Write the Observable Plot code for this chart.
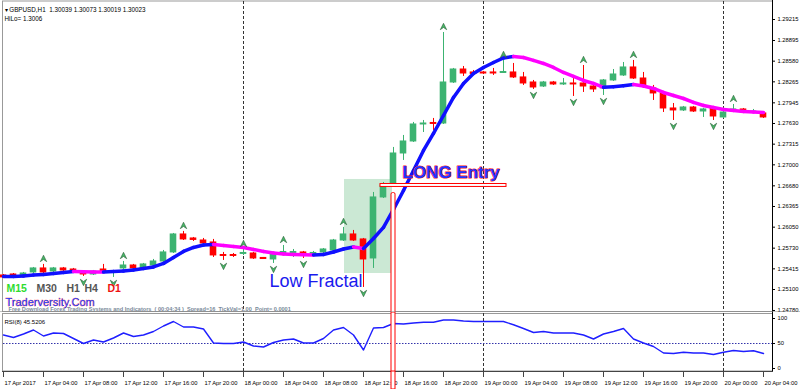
<!DOCTYPE html>
<html><head><meta charset="utf-8">
<script src="https://cdn.jsdelivr.net/npm/d3@7"></script>
<script src="https://cdn.jsdelivr.net/npm/@observablehq/plot@0.6"></script>
<style>
html,body{margin:0;padding:0;background:#fff;}
#chart{position:relative;width:800px;height:389px;overflow:hidden;background:#fff;}
#chart svg{display:block;}
</style></head><body><div id="chart"></div>
<script>
// ---- data (GBPUSD H1, bars 0..76 = 17 Apr 00:00 .. 20 Apr 04:00) ----
const open = [1.25314,1.25329,1.25299,1.25360,1.25421,1.25375,1.25421,1.25405,1.25360,1.25329,
1.25405,1.25360,1.25421,1.25466,1.25421,1.25466,1.25527,1.25665,1.25939,1.25878,
1.25847,1.25817,1.25626,1.25626,1.25642,1.25649,1.25581,1.25558,1.25657,1.25657,
1.25665,1.25642,1.25665,1.25695,1.25847,1.25939,1.25863,1.25573,1.26503,1.26716,
1.27173,1.27356,1.27615,1.27638,1.27630,1.28255,1.28453,1.28408,1.28408,1.28408,
1.28400,1.28408,1.28332,1.28255,1.28194,1.28255,1.28225,1.28240,1.28240,1.28194,
1.28164,1.28286,1.28362,1.28484,1.28316,1.28164,1.28088,1.27859,1.27829,1.27874,
1.27813,1.27859,1.27722,1.27813,1.27844,1.27798,1.27783];
const high = [1.25329,1.25344,1.25360,1.25436,1.25482,1.25436,1.25436,1.25421,1.25375,1.25390,
1.25482,1.25390,1.25527,1.25482,1.25497,1.25558,1.25695,1.25954,1.25985,1.25893,
1.25878,1.25863,1.25665,1.25649,1.25710,1.25665,1.25588,1.25649,1.25771,1.25710,
1.25680,1.25680,1.25725,1.25863,1.26046,1.26000,1.25878,1.26579,1.26731,1.27265,
1.27448,1.27646,1.27676,1.27707,1.29017,1.28469,1.28499,1.28438,1.28423,1.28469,
1.28591,1.28545,1.28408,1.28286,1.28271,1.28271,1.28316,1.28316,1.28514,1.28240,
1.28301,1.28453,1.28560,1.28591,1.28408,1.28210,1.28118,1.27935,1.27890,1.27890,
1.27859,1.27874,1.27813,1.27920,1.27859,1.27844,1.27798];
const low = [1.25268,1.25284,1.25284,1.25344,1.25344,1.25360,1.25375,1.25344,1.25299,1.25314,
1.25344,1.25284,1.25405,1.25405,1.25405,1.25451,1.25512,1.25649,1.25847,1.25832,
1.25786,1.25588,1.25543,1.25588,1.25619,1.25558,1.25558,1.25497,1.25649,1.25588,
1.25573,1.25619,1.25649,1.25680,1.25832,1.25832,1.25131,1.25421,1.26487,1.26670,
1.27067,1.27341,1.27493,1.27524,1.27615,1.28240,1.28347,1.28362,1.28377,1.28362,
1.28392,1.28316,1.28210,1.28149,1.28179,1.28210,1.28210,1.28042,1.28103,1.28103,
1.28057,1.28271,1.28347,1.28301,1.28164,1.27981,1.27798,1.27676,1.27813,1.27798,
1.27722,1.27676,1.27707,1.27798,1.27783,1.27783,1.27707];
const close = [1.25284,1.25299,1.25344,1.25421,1.25360,1.25421,1.25390,1.25360,1.25329,1.25375,
1.25360,1.25375,1.25466,1.25421,1.25482,1.25527,1.25665,1.25939,1.25863,1.25855,
1.25802,1.25619,1.25611,1.25611,1.25657,1.25573,1.25565,1.25634,1.25672,1.25672,
1.25642,1.25657,1.25710,1.25847,1.25939,1.25847,1.25558,1.26503,1.26686,1.27173,
1.27356,1.27615,1.27630,1.27623,1.28255,1.28453,1.28392,1.28385,1.28392,1.28392,
1.28415,1.28332,1.28240,1.28179,1.28255,1.28225,1.28240,1.28225,1.28194,1.28149,
1.28286,1.28377,1.28484,1.28316,1.28210,1.28088,1.27859,1.27829,1.27874,1.27813,
1.27844,1.27737,1.27798,1.27844,1.27798,1.27813,1.27722];
const trendMA = [1.25299,1.25299,1.25306,1.25322,1.25329,1.25344,1.25360,1.25375,1.25370,1.25367,
1.25365,1.25375,1.25382,1.25398,1.25421,1.25444,1.25497,1.25588,1.25680,1.25741,
1.25779,1.25786,1.25771,1.25756,1.25741,1.25710,1.25680,1.25657,1.25642,1.25634,
1.25629,1.25626,1.25634,1.25672,1.25718,1.25748,1.25725,1.25878,1.26046,1.26320,
1.26609,1.26914,1.27219,1.27478,1.27752,1.28027,1.28240,1.28392,1.28484,1.28560,
1.28629,1.28652,1.28636,1.28591,1.28545,1.28484,1.28408,1.28347,1.28286,1.28240,
1.28182,1.28191,1.28207,1.28225,1.28202,1.28164,1.28103,1.28057,1.28011,1.27951,
1.27905,1.27874,1.27844,1.27829,1.27813,1.27806,1.27798];
const rsi = [67,62,69,77,65,71,70,60,50,57,
53,61,71,64,67,74,85,94,83,83,
79,51,50,50,53,45,43,52,57,59,
51,51,60,77,82,67,37,81,82,90,
89,91,92.5,92.5,97,97,95,94,94,94,
94,87.5,80,72,74,71,71,71,67,59,
69,74,80,59,51,44,31,30,32.5,31,
31,28,32.5,36,34,35.5,30];
const upFractals = [4,12,18,24,28,34,44,50,58,63,73];
const downFractals = [8,11,22,27,30,36,53,57,60,67,71];
const priceTicks = [1.29215,1.28895,1.28580,1.28265,1.27945,1.27630,1.27315,1.27000,1.26680,1.26365,1.26050,1.25730,1.25415,1.25100,1.24780];
const rsiTicks = [100,50,0];
const timeTicks = [0,4,8,12,16,20,24,28,32,36,40,44,48,52,56,60,64,68,72,76];
const timeLabels = ["17 Apr 2017","17 Apr 04:00","17 Apr 08:00","17 Apr 12:00","17 Apr 16:00","17 Apr 20:00",
"18 Apr 00:00","18 Apr 04:00","18 Apr 08:00","18 Apr 12:00","18 Apr 16:00","18 Apr 20:00",
"19 Apr 00:00","19 Apr 04:00","19 Apr 08:00","19 Apr 12:00","19 Apr 16:00","19 Apr 20:00",
"20 Apr 00:00","20 Apr 04:00"];
const daySeparators = [24,48,72];
// annotations (bar index / price)
const entryZone = [{start:34.1, end:38.9, top:1.26777, bottom:1.25344}];
const entryLine = [{start:37.7, end:50.3, top:1.26708, bottom:1.26663}];
const entryBar = [39];
const entryBarTop = 1.26570;
const entryLabel = [{bar:39.9, price:1.26884, text:"LONG Entry"}];
const fractalLabel = [{bar:26.6, price:1.25223, text:"Low Fractal"}];

// ---- drawing ----
const GREEN = "#3cb371", RED = "#ff0000";
const xScale = {domain:[0,76.9], range:[3,772], axis:null};
const font = "'Liberation Sans', Arial, sans-serif";
const bars = open.map((o,i)=>({i, o, h:high[i], l:low[i], c:close[i], col: close[i] >= o ? GREEN : RED}));
const segs = trendMA.slice(1).map((v,k)=>({x1:k, y1:trendMA[k], x2:k+1, y2:v, col: v >= trendMA[k] ? "#1010ff" : "#ff00ff"}));
const arrowUp = {draw(ctx, size){const r=Math.sqrt(size/Math.PI); ctx.moveTo(0,-r); ctx.lineTo(r,r); ctx.lineTo(0,r*0.3); ctx.lineTo(-r,r); ctx.closePath();}};
const arrowDown = {draw(ctx, size){const r=Math.sqrt(size/Math.PI); ctx.moveTo(0,r); ctx.lineTo(r,-r); ctx.lineTo(0,-r*0.3); ctx.lineTo(-r,-r); ctx.closePath();}};
const over = (t, dx, dy, o) => Plot.text([t], {text:d=>d, frameAnchor:"top-left", dx, dy, textAnchor:"start", ...o});
const redVertical = (extra) => Plot.rect(entryBar, {x1:d=>d-0.2, x2:d=>d+0.2, fill:"white", stroke:"red", strokeWidth:1, ...extra});

const main = Plot.plot({
  width:800, height:312, margin:0,
  style:{fontFamily:font, background:"white"},
  x: xScale,
  y: {domain:[1.25100,1.29215], range:[289,19], axis:null},
  marks: [
    Plot.frame({stroke:"#999", insetLeft:2, insetRight:28, insetTop:0.5, insetBottom:1}),
    Plot.ruleX(daySeparators, {stroke:"#333", strokeDasharray:"3,2", insetTop:1, insetBottom:1}),
    Plot.rect(entryZone, {x1:"start", x2:"end", y1:"bottom", y2:"top", fill:"#cbe8d4"}),
    Plot.ruleX(bars, {x:"i", y1:"l", y2:"h", stroke:"col", strokeWidth:1}),
    Plot.rect(bars, {x1:d=>d.i-0.33, x2:d=>d.i+0.33, y1:d=>Math.min(d.o,d.c), y2:d=>Math.max(d.o,d.c), fill:"col", insetTop:-0.5, insetBottom:-0.5}),
    Plot.link(segs, {x1:"x1", y1:"y1", x2:"x2", y2:"y2", stroke:"col", strokeWidth:3.5, strokeLinecap:"round"}),
    Plot.dot(upFractals, {x:d=>d, y:d=>high[d], dy:-6, symbol:arrowUp, r:3.2, fill:"#48b868", stroke:"#2a5e38", strokeWidth:0.6}),
    Plot.dot(downFractals, {x:d=>d, y:d=>low[d], dy:6, symbol:arrowDown, r:3.2, fill:"#48b868", stroke:"#2a5e38", strokeWidth:0.6}),
    Plot.rect(entryLine, {x1:"start", x2:"end", y1:"bottom", y2:"top", fill:"white", stroke:"red", strokeWidth:1}),
    redVertical({y1:()=>entryBarTop, y2:()=>1.2470, rx:1.5}),
    Plot.text(entryLabel, {x:"bar", y:"price", text:"text", textAnchor:"start", fontSize:17, fontWeight:"bold", fill:"#2233ff", stroke:"#ff2020", strokeWidth:1.2}),
    Plot.text(fractalLabel, {x:"bar", y:"price", text:"text", textAnchor:"start", fontSize:18, fill:"#1a1aee"}),
    over("\u25BE GBPUSD,H1  1.30039 1.30073 1.30019 1.30023", 4, 7, {fontSize:6.3, fill:"#000"}),
    over("HiLo= 1.3006", 4, 16, {fontSize:6.3, fill:"#000"}),
    over("M15", 6, 284, {fontSize:10.5, fontWeight:"bold", fill:"#2fdc2f"}),
    over("M30", 36, 284, {fontSize:10.5, fontWeight:"bold", fill:"#555"}),
    over("H1", 66, 284, {fontSize:10.5, fontWeight:"bold", fill:"#555"}),
    over("H4", 84, 284, {fontSize:10.5, fontWeight:"bold", fill:"#555"}),
    over("D1", 107, 284, {fontSize:10.5, fontWeight:"bold", fill:"#ee1111"}),
    over("Traderversity.Com", 5, 297.5, {fontSize:11, fill:"#2244ff", stroke:"#ff4444", strokeWidth:0.5}),
    over("Free Download Forex Trading Systems and Indicators  ( 00:04:34 )  Spread=16  TickVal=1.00  Point= 0.0001", 8, 307, {fontSize:5.6, fontWeight:"bold", fill:"#7a8a9a"}),
    Plot.ruleX([76.9], {stroke:"#000"}),
    Plot.ruleY(priceTicks, {x1:76.9, x2:77.2, stroke:"#000"}),
    Plot.text(priceTicks, {x:76.9, y:d=>d, dx:5, text:d=>d.toFixed(5), textAnchor:"start", fontSize:5.8, fill:"#000"}),
    Plot.frame({anchor:"bottom", stroke:"#888", strokeWidth:2})
  ]
});

const rsiPlot = Plot.plot({
  width:800, height:59, margin:0,
  style:{fontFamily:font, background:"white"},
  x: xScale,
  y: {domain:[0,100], range:[56,6], axis:null},
  marks: [
    Plot.frame({stroke:"#999", insetLeft:2, insetRight:28, insetTop:1, insetBottom:0.5}),
    Plot.ruleX(daySeparators, {stroke:"#333", strokeDasharray:"3,2", insetTop:1}),
    Plot.ruleY([50], {x1:0, x2:76.9, stroke:"#3333aa", strokeDasharray:"1.5,1.5"}),
    Plot.line(rsi, {x:(d,i)=>i, y:d=>d, stroke:"#1f1fff", strokeWidth:1.4}),
    redVertical({}),
    Plot.ruleX([76.9], {stroke:"#000"}),
    Plot.ruleY(rsiTicks, {x1:76.9, x2:77.2, stroke:"#000"}),
    Plot.text(rsiTicks, {x:76.9, y:d=>d, dx:5, text:d=>String(d), textAnchor:"start", fontSize:5.8, fill:"#000"}),
    over("RSI(8) 45.5206", 4, 7, {fontSize:6, fill:"#000"})
  ]
});

const timePlot = Plot.plot({
  width:800, height:18, margin:0,
  style:{fontFamily:font, background:"white"},
  x: xScale,
  marks: [
    Plot.frame({anchor:"top", stroke:"#444", insetLeft:2, insetRight:28}),
    Plot.ruleX(timeTicks, {stroke:"#444", insetTop:1, insetBottom:12}),
    Plot.text(timeTicks, {x:d=>d, text:(d,i)=>timeLabels[i], frameAnchor:"top", dy:9, dx:1, textAnchor:"start", fontSize:5.8, fill:"#000"}),
    redVertical({})
  ]
});

const c = document.getElementById("chart");
c.append(main, rsiPlot, timePlot);
</script></body></html>
